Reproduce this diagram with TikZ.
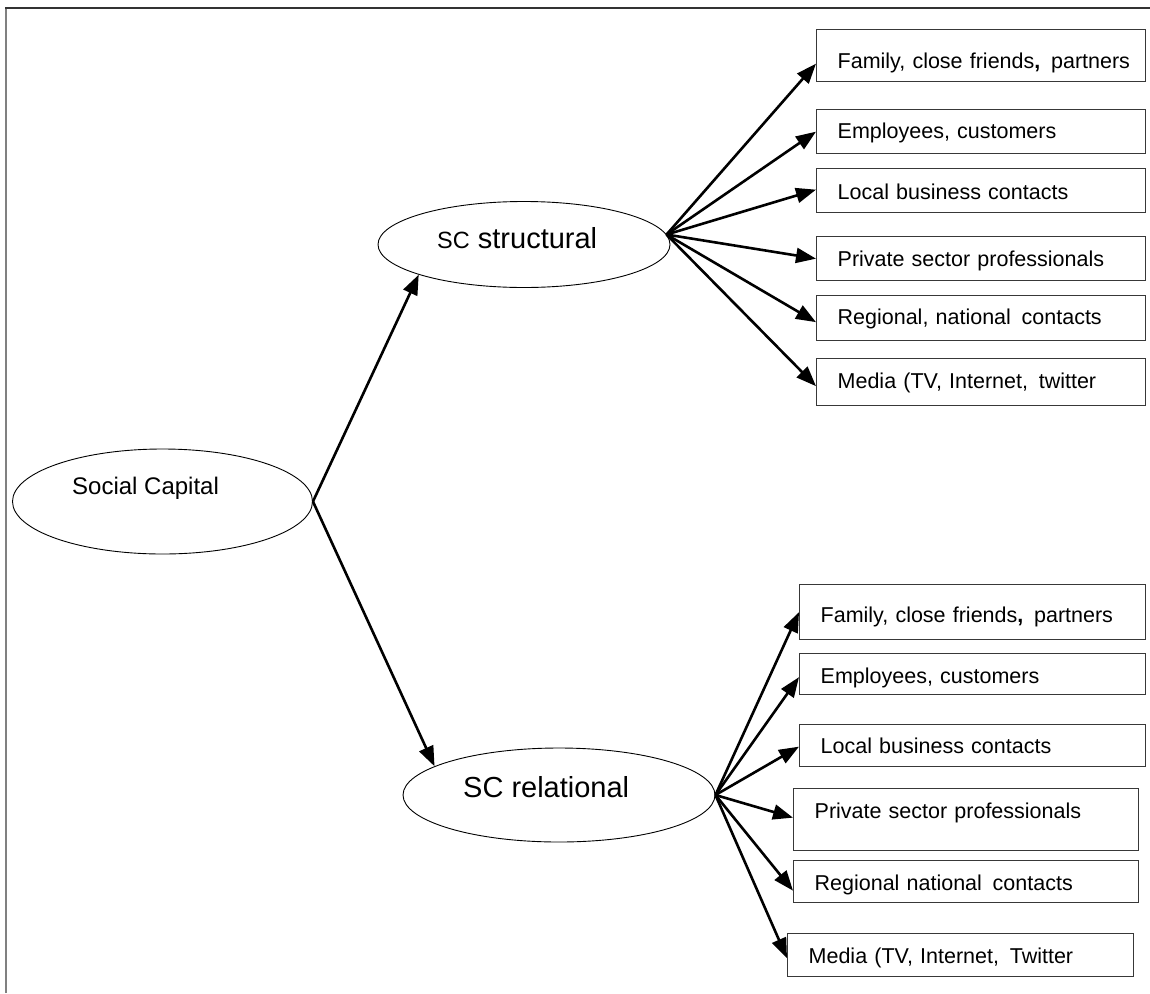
\documentclass[tikz,border=0pt]{standalone}
\usepackage{fontspec}
\setmainfont{Liberation Sans}
\usetikzlibrary{arrows.meta,shapes.geometric}
\begin{document}
\begin{tikzpicture}[x=1pt,y=-1pt,
  oval/.style={draw, ellipse, line width=0.9pt, inner sep=0pt},
  leaf/.style={draw=black!78, line width=1.3pt, rectangle, anchor=north west,
    inner xsep=21pt, inner ysep=0pt, align=left,
    font=\fontsize{21.5}{25}\selectfont},
  ovaltext/.style={anchor=base west, inner sep=0pt},
  link/.style={line width=2.6pt, -{Triangle[length=20pt,width=15pt]}}
]
\useasboundingbox (0,0) rectangle (1150,993);
% page frame
\draw[gray, line width=2pt] (6,993) -- (6,8);
\draw[black!80, line width=1.5pt] (5,8) -- (1150,8);

% root and the two branches
\node[oval, minimum width=300pt, minimum height=105pt] (soc) at (162.5,501.5) {};
\node[ovaltext, font=\fontsize{24}{28}\selectfont] (soctxt) at (72,494) {Social Capital};
\node[oval, minimum width=292pt, minimum height=86pt] (str) at (524,244.5) {};
\node[ovaltext, font=\fontsize{29}{34}\selectfont] (strtxt) at (437,248)
  {{\fontsize{23.5}{28}\selectfont SC} structural};
\node[oval, minimum width=312pt, minimum height=94pt] (rel) at (559,795) {};
\node[ovaltext, font=\fontsize{29}{34}\selectfont] (reltxt) at (463,797) {SC relational};

% structural leaves
\node[leaf, text width=287pt, text height=39pt, text depth=13pt] (s1) at (816,29) {\mbox{Family, close friends\textbf{,}\, partners}};
\node[leaf, text width=287pt, text height=29pt, text depth=15pt] (s2) at (816,109) {Employees, customers};
\node[leaf, text width=287pt, text height=31pt, text depth=13pt] (s3) at (816,168) {Local business contacts};
\node[leaf, text width=287pt, text height=30pt, text depth=14pt] (s4) at (816,236) {Private sector professionals};
\node[leaf, text width=287pt, text height=29pt, text depth=16pt] (s5) at (816,295) {Regional, national\, contacts};
\node[leaf, text width=287pt, text height=30pt, text depth=17pt] (s6) at (816,358) {Media (TV, Internet,\, twitter};

% relational leaves
\node[leaf, text width=304pt, text height=38pt, text depth=17pt] (r1) at (799,584) {\mbox{Family, close friends\textbf{,}\, partners}};
\node[leaf, text width=304pt, text height=30pt, text depth=11pt] (r2) at (799,653) {Employees, customers};
\node[leaf, text width=304pt, text height=29pt, text depth=13pt] (r3) at (799,724) {Local business contacts};
\node[leaf, text width=303pt, text height=30pt, text depth=32pt] (r4) at (793,788) {Private sector professionals};
\node[leaf, text width=303pt, text height=30pt, text depth=12pt] (r5) at (793,860) {Regional national\, contacts};
\node[leaf, text width=304pt, text height=30pt, text depth=13pt] (r6) at (787,933) {Media (TV, Internet,\, Twitter};

% root to branches
\draw[link] (soc.east) -- (str.196);
\draw[link] (soc.east) -- (rel.167);

% structural fan
\coordinate (sf) at (str.4);
\draw[link] (sf) -- ([yshift=-8pt]s1.west);
\draw[link] (sf) -- (s2.west);
\draw[link] (sf) -- ([yshift=1pt]s3.west);
\draw[link] (sf) -- (s4.west);
\draw[link] (sf) -- ([yshift=-4pt]s5.west);
\draw[link] (sf) -- ([yshift=-4pt]s6.west);

% relational fan
\coordinate (rf) at (rel.east);
\draw[link] (rf) -- (r1.west);
\draw[link] (rf) -- ([yshift=-3pt]r2.west);
\draw[link] (rf) -- ([yshift=-1pt]r3.west);
\draw[link] (rf) -- ([yshift=2pt]r4.west);
\draw[link] (rf) -- ([yshift=-9pt]r5.west);
\draw[link] (rf) -- ([yshift=-3pt]r6.west);
\end{tikzpicture}
\end{document}
